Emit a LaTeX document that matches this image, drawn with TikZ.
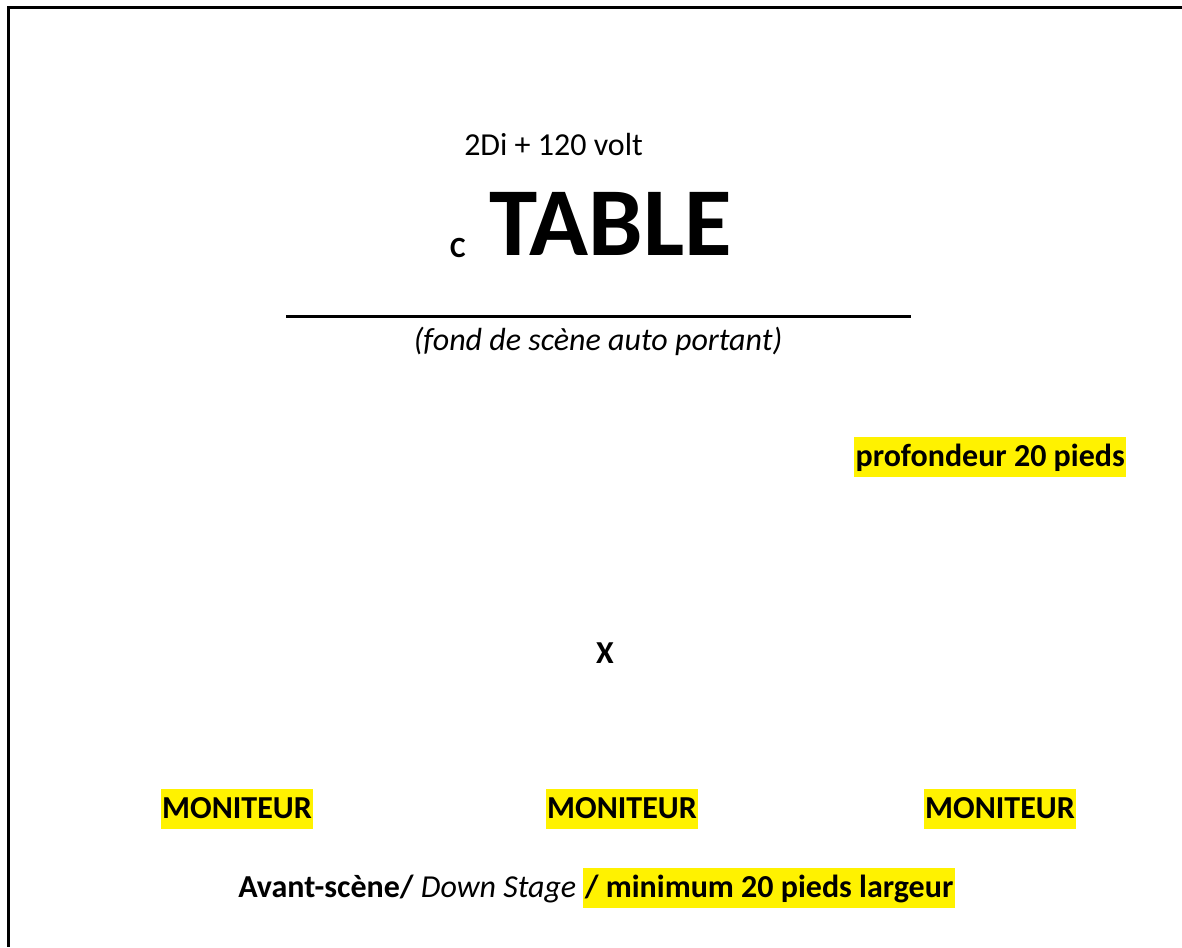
\documentclass[tikz,border=0pt]{standalone}
\usepackage{fontspec}
\setmainfont{Carlito}
\usetikzlibrary{positioning}
\tikzset{
  plain/.style={inner sep=0pt},
  hl/.style={fill=yellow, inner xsep=1pt, inner ysep=0pt, text height=21.75pt, text depth=8.25pt, font=\fontsize{24}{29}\selectfont\bfseries},
}
\begin{document}
\begin{tikzpicture}[x=0.75pt, y=-0.75pt, font=\fontsize{24}{29}\selectfont]
    \useasboundingbox (0,0) rectangle (1182,947);
    \coordinate (frame_tl) at (8,7);
    \coordinate (frame_tr) at (1182,7);
    \coordinate (frame_bl) at (8,947);
    \draw[line width=2.25pt] (frame_tr) -- (frame_tl) -- (frame_bl);

    \node[plain, anchor=base west] (power) at (464,155) {2Di + 120 volt};
    \node[plain, anchor=base west, font=\fontsize{73}{80}\selectfont\bfseries] (table) at (489,255) {TABLE};
    \node[plain, anchor=base east, font=\fontsize{22}{26}\selectfont\bfseries] (chair) at (466,257) {C};

    \coordinate (wall_l) at (286,316);
    \coordinate (wall_r) at (911,316);
    \draw[line width=2.25pt] (wall_l) -- (wall_r);
    \node[plain, anchor=base, font=\fontsize{24}{29}\selectfont\itshape] (wall) at (598,350) {(fond de scène auto portant)};

    \node[hl, anchor=north west] (depth) at (854,437) {profondeur 20 pieds};

    \node[plain, font=\fontsize{24}{29}\selectfont\bfseries] (mic) at (605,653) {X};

    \node[hl, anchor=north] (mon_l) at (237,789) {MONITEUR};
    \node[hl, anchor=north] (mon_c) at (622,789) {MONITEUR};
    \node[hl, anchor=north] (mon_r) at (1000,789) {MONITEUR};

    \node[plain, anchor=base west, font=\fontsize{24}{29}\selectfont\bfseries] (front) at (238,897) {Avant-scène/};
    \node[plain, anchor=base west, font=\fontsize{24}{29}\selectfont\itshape] (downstage) at ([xshift=5pt]front.base east) {Down Stage};
    \node[hl, anchor=base west] (width) at ([xshift=5pt]downstage.base east) {/ minimum 20 pieds largeur};
\end{tikzpicture}
\end{document}
